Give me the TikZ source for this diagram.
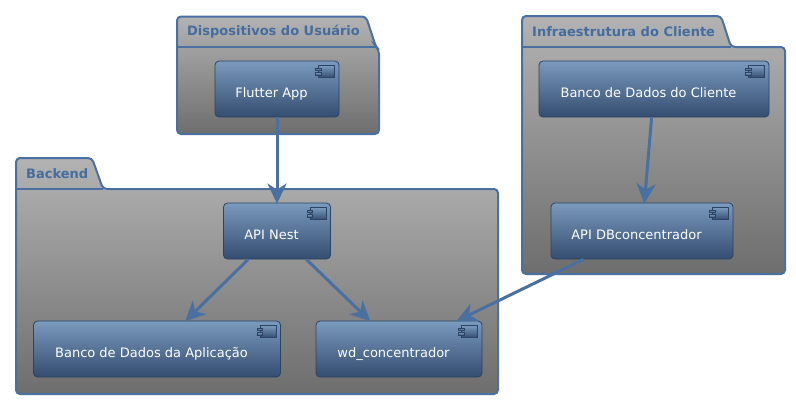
\documentclass[tikz,border=0pt]{standalone}
\usepackage{fontspec}
\setmainfont{DejaVu Sans}
\usetikzlibrary{positioning,arrows.meta,calc}
\definecolor{linkblue}{HTML}{4A70A2}
\definecolor{titleblue}{HTML}{456C9E}
\definecolor{compline}{HTML}{2C4363}
\definecolor{comptop}{HTML}{7A9ABE}
\definecolor{compbot}{HTML}{344D70}
\tikzset{
  package/.style={draw=linkblue, line width=2pt, rounded corners=4pt, top color=black!30, bottom color=black!57},
  pkgtitle/.style={text=titleblue, font=\fontsize{13}{15}\selectfont\bfseries, anchor=west, inner sep=0pt},
  comp/.style={draw=compline, line width=0.8pt, rounded corners=4pt, top color=comptop, bottom color=compbot,
    text=white, font=\fontsize{13}{15}\selectfont, inner sep=0pt, minimum height=56pt},
  icon/.style={draw=compline, line width=0.7pt, top color=comptop, bottom color=compbot},
  link/.style={draw=linkblue, line width=3pt, -{Stealth[length=20pt,width=19pt,inset=6pt]}, shorten >=-1pt}
}
% one small component mark in the top right corner of a box
\newcommand{\compicon}[1]{
  \draw[icon] ($(#1.north east)+(-21,5)$) rectangle ($(#1.north east)+(-5,17)$);
  \draw[icon] ($(#1.north east)+(-24,7.5)$) rectangle ($(#1.north east)+(-18.5,10)$);
  \draw[icon] ($(#1.north east)+(-24,12)$) rectangle ($(#1.north east)+(-18.5,14.5)$);
}
% box labels sit a little low and left of the centre
\newcommand{\complabel}[1]{\raisebox{-8.5pt}[0pt][0pt]{#1}\hspace*{11pt}}
\begin{document}
\begin{tikzpicture}[x=1pt,y=-1pt]
\useasboundingbox (0,0) rectangle (796,405);

% Packages
\draw[package] (177,47) -- (177,16.5) -- (366,16.5) -- (376,47) -- (379,50) -- (379,134) -- (177,134) -- cycle;
\draw[package] (16,189) -- (16,158) -- (92,158) -- (103,189) -- (498,189) -- (498,394) -- (16,394) -- cycle;
\draw[package] (522,47) -- (522,16) -- (721,16) -- (731,47) -- (785,47) -- (785,274) -- (522,274) -- cycle;
\draw[draw=linkblue, line width=2pt] (177,47) -- (376,47);
\draw[draw=linkblue, line width=2pt] (16,189) -- (103,189);
\draw[draw=linkblue, line width=2pt] (522,47) -- (731,47);

\node[pkgtitle] (devtitle) at (187,31.5) {Dispositivos do Usuário};
\node[pkgtitle] (backtitle) at (26,173.5) {Backend};
\node[pkgtitle] (infratitle) at (532,31.5) {Infraestrutura do Cliente};

% Components
\node[comp, minimum width=124pt] (flutter) at (277,89) {\complabel{Flutter App}};
\node[comp, minimum width=107pt] (nest) at (277,231) {\complabel{API Nest}};
\node[comp, minimum width=247pt] (appdb) at (157,349) {\complabel{Banco de Dados da Aplicação}};
\node[comp, minimum width=166pt] (wd) at (399,349) {\complabel{wd\_concentrador}};
\node[comp, minimum width=230pt] (clientdb) at (654,89) {\complabel{Banco de Dados do Cliente}};
\node[comp, minimum width=182pt] (dbconc) at (642,231) {\complabel{API DBconcentrador}};

\foreach \c in {flutter,nest,appdb,wd,clientdb,dbconc} {
  \compicon{\c}
}

% Links
\draw[link] (flutter) -- (nest);
\draw[link] (nest) -- (appdb);
\draw[link] (nest) -- (wd);
\draw[link] (clientdb) -- (dbconc);
\draw[link] (dbconc) -- (wd);
\end{tikzpicture}
\end{document}
